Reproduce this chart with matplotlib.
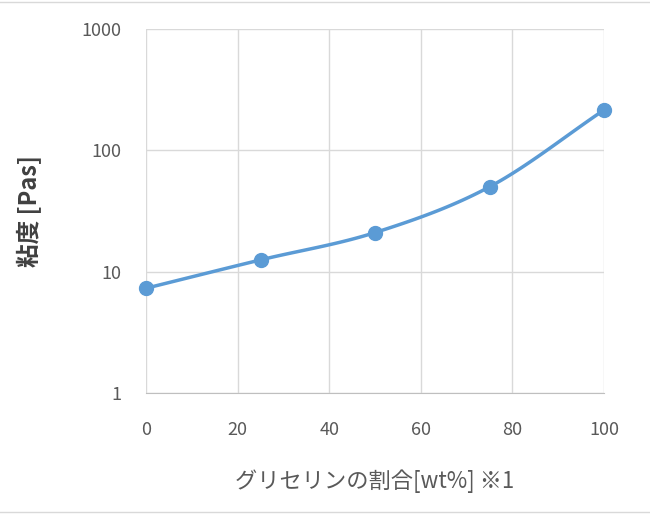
import numpy as np
import matplotlib
matplotlib.use("Agg")
import matplotlib.pyplot as plt

plt.rcParams['font.family'] = ['Noto Sans CJK JP', 'DejaVu Sans']

glycerin = [0, 25, 50, 75, 100]
viscosity = [7.3, 12.5, 21, 50, 215]

fig = plt.figure(figsize=(6.5, 5.14), dpi=100)
ax = fig.add_axes([146/650, 1-393/514, (604-146)/650, (393-29)/514])

# Catmull-Rom smoothing in log space (like Excel smoothed line)
x = np.array(glycerin, float); y = np.log10(viscosity)
px = np.concatenate([[2*x[0]-x[1]], x, [2*x[-1]-x[-2]]])
py = np.concatenate([[2*y[0]-y[1]], y, [2*y[-1]-y[-2]]])
sx, sy = [], []
t = np.linspace(0, 1, 30)
for i in range(1, len(px)-2):
    for P, out in ((px, sx), (py, sy)):
        p0, p1, p2, p3 = P[i-1], P[i], P[i+1], P[i+2]
        out.extend(0.5*((2*p1) + (-p0+p2)*t + (2*p0-5*p1+4*p2-p3)*t**2 + (-p0+3*p1-3*p2+p3)*t**3))
ax.plot(sx, 10**np.array(sy), color='#5B9BD5', lw=2.5, zorder=3, clip_on=False)
ax.plot(glycerin, viscosity, 'o', color='#5B9BD5', ms=10, zorder=4, clip_on=False)

ax.set_yscale('log')
ax.set_xlim(0, 100); ax.set_ylim(1, 1000)
ax.set_xticks([0, 20, 40, 60, 80, 100])
ax.set_yticks([1, 10, 100, 1000])
ax.set_yticklabels(['1', '10', '100', '1000'])
ax.minorticks_off()
ax.grid(True, color='#D9D9D9', lw=1)
for s in ['top', 'right', 'left']:
    ax.spines[s].set_visible(False)
ax.spines['bottom'].set_color('#BFBFBF')
ax.tick_params(axis='x', length=0, labelsize=13, colors='#595959', pad=20)
ax.tick_params(axis='y', length=0, labelsize=13, colors='#595959', pad=18)
ax.set_xlabel('グリセリンの割合[wt%] ※1', fontsize=16, color='#595959', labelpad=22)
ax.set_ylabel('粘度 [Pas]', fontsize=17, color='#404040', fontweight='bold', labelpad=28)

fig.add_artist(plt.Line2D([0, 1], [0.997, 0.997], color='#D9D9D9', lw=1))
fig.add_artist(plt.Line2D([0, 1], [0.003, 0.003], color='#D9D9D9', lw=1))
fig.savefig('out.png', dpi=100)
